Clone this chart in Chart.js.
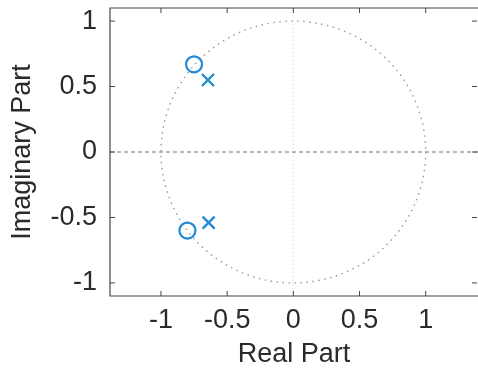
<!DOCTYPE html>
<html lang="en">
<head>
    <meta charset="UTF-8">
    <title>Pole-Zero Plot</title>
    <script src="https://cdn.jsdelivr.net/npm/chart.js"></script>
    <style>
        html, body { margin: 0; padding: 0; background: #fff; }
        canvas { display: block; }
    </style>
</head>
<body>
    <canvas id="chart" width="478" height="369"></canvas>

    <script>
        // zeros (o) and poles (x)
        const zeroRe = [-0.75, -0.80];
        const zeroIm = [0.67, -0.60];
        const poleRe = [-0.645, -0.64];
        const poleIm = [0.55, -0.54];

        const xTicks = [-1, -0.5, 0, 0.5, 1];
        const yTicks = [-1, -0.5, 0, 0.5, 1];
        const unitRadius = 1;

        const markColor = '#2389d4';
        const axisColor = '#444';

        // unit circle, zero lines, box and inward ticks
        const zplaneDecor = {
            id: 'zplaneDecor',
            beforeDatasetsDraw(chart) {
                const { ctx, chartArea: a, scales: { x, y } } = chart;
                const cx = x.getPixelForValue(0);
                const cy = y.getPixelForValue(0);
                const rx = x.getPixelForValue(unitRadius) - cx;
                const ry = cy - y.getPixelForValue(unitRadius);

                ctx.save();
                ctx.beginPath();
                ctx.rect(a.left, a.top, a.right - a.left, a.bottom - a.top);
                ctx.clip();

                // vertical zero line, faint dotted
                ctx.strokeStyle = '#d4d4d4';
                ctx.lineWidth = 1;
                ctx.setLineDash([1, 3]);
                ctx.beginPath();
                ctx.moveTo(cx, a.top);
                ctx.lineTo(cx, a.bottom);
                ctx.stroke();

                // horizontal zero line, dashed
                ctx.strokeStyle = '#777';
                ctx.setLineDash([4, 3]);
                ctx.beginPath();
                ctx.moveTo(a.left, cy);
                ctx.lineTo(a.right, cy);
                ctx.stroke();

                // unit circle, dotted
                ctx.strokeStyle = '#999';
                ctx.lineWidth = 1.4;
                ctx.setLineDash([1.5, 4.5]);
                ctx.beginPath();
                ctx.ellipse(cx, cy, rx, ry, 0, 0, Math.PI * 2);
                ctx.stroke();
                ctx.restore();

                // box (right side falls off the picture)
                ctx.save();
                ctx.strokeStyle = axisColor;
                ctx.lineWidth = 1.2;
                ctx.beginPath();
                ctx.moveTo(a.right, a.top);
                ctx.lineTo(a.left, a.top);
                ctx.lineTo(a.left, a.bottom);
                ctx.lineTo(a.right, a.bottom);
                ctx.stroke();

                const tl = 5;
                ctx.lineWidth = 1;
                ctx.beginPath();
                xTicks.forEach(v => {
                    const px = x.getPixelForValue(v);
                    ctx.moveTo(px, a.bottom);
                    ctx.lineTo(px, a.bottom - tl);
                    ctx.moveTo(px, a.top);
                    ctx.lineTo(px, a.top + tl);
                });
                yTicks.forEach(v => {
                    const py = y.getPixelForValue(v);
                    ctx.moveTo(a.left, py);
                    ctx.lineTo(a.left + tl, py);
                    ctx.moveTo(a.right - 1, py);
                    ctx.lineTo(a.right - 1 - tl, py);
                });
                ctx.stroke();
                ctx.restore();
            }
        };

        const zeroPoints = zeroRe.map((re, i) => ({ x: re, y: zeroIm[i] }));
        const polePoints = poleRe.map((re, i) => ({ x: re, y: poleIm[i] }));

        const labelFont = { family: 'Liberation Sans, Arial, sans-serif', size: 27 };

        // fixed axis sizes, no extra room for edge labels
        function fixSize(w, h) {
            return scale => {
                if (w) scale.width = w;
                if (h) scale.height = h;
                scale.paddingLeft = 0;
                scale.paddingRight = 0;
                scale.paddingTop = 0;
                scale.paddingBottom = 0;
            };
        }

        new Chart(document.getElementById('chart'), {
            type: 'scatter',
            data: {
                datasets: [
                    {
                        label: 'Zeros',
                        data: zeroPoints,
                        pointStyle: 'circle',
                        pointRadius: 8,
                        borderColor: markColor,
                        backgroundColor: 'rgba(0,0,0,0)',
                        borderWidth: 2.2
                    },
                    {
                        label: 'Poles',
                        data: polePoints,
                        pointStyle: 'crossRot',
                        pointRadius: 8.5,
                        borderColor: markColor,
                        borderWidth: 2.4
                    }
                ]
            },
            options: {
                responsive: false,
                animation: false,
                devicePixelRatio: 1,
                layout: {
                    autoPadding: false,
                    padding: { top: 8, right: 0, left: 0, bottom: 0 }
                },
                plugins: {
                    legend: { display: false },
                    tooltip: { enabled: false }
                },
                scales: {
                    x: {
                        type: 'linear',
                        min: -1.385,
                        max: 1.395,
                        afterBuildTicks: scale => { scale.ticks = xTicks.map(v => ({ value: v })); },
                        afterFit: fixSize(0, 73),
                        grid: { display: false, drawTicks: false },
                        border: { display: false },
                        ticks: {
                            padding: 8,
                            color: '#2a2a2a',
                            font: labelFont,
                            callback: v => String(v)
                        },
                        title: {
                            display: true,
                            text: 'Real Part',
                            color: '#2a2a2a',
                            font: labelFont,
                            padding: { top: 0, bottom: -2 }
                        }
                    },
                    y: {
                        type: 'linear',
                        min: -1.1,
                        max: 1.1,
                        afterBuildTicks: scale => { scale.ticks = yTicks.map(v => ({ value: v })); },
                        afterFit: fixSize(110, 0),
                        grid: { display: false, drawTicks: false },
                        border: { display: false },
                        ticks: {
                            padding: 13,
                            color: '#2a2a2a',
                            font: labelFont,
                            callback: v => String(v)
                        },
                        title: {
                            display: true,
                            text: 'Imaginary Part',
                            color: '#2a2a2a',
                            font: labelFont,
                            padding: { top: 6, bottom: 0 }
                        }
                    }
                }
            },
            plugins: [zplaneDecor]
        });
    </script>
</body>
</html>
